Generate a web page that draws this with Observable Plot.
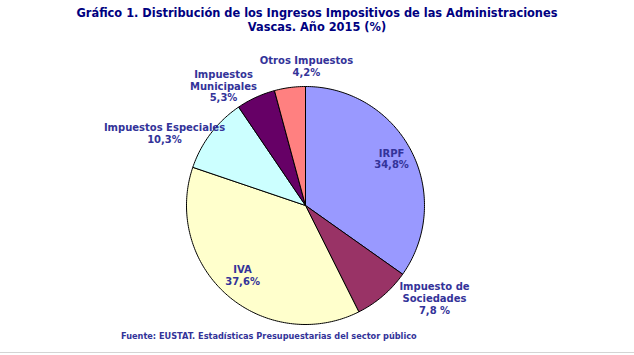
<!DOCTYPE html>
<html><head><meta charset="utf-8">
<script src="https://cdn.jsdelivr.net/npm/d3@7"></script>
<script src="https://cdn.jsdelivr.net/npm/@observablehq/plot@0.6"></script>
<style>
body{margin:0;background:#fff;}
#wrap{width:634px;height:352px;border-bottom:1px solid #d4d4d4;position:relative;font-family:"DejaVu Sans",Verdana,sans-serif;}
#title{height:34px;padding-top:6px;text-align:center;color:#000080;font-weight:bold;font-size:11.4px;line-height:14px;}
#caption{padding-left:121px;color:#333399;font-weight:bold;font-size:8.2px;line-height:12px;margin-top:2px;}
svg{display:block;}
</style></head>
<body><div id="wrap">
<div id="title">Gráfico 1. Distribución de los Ingresos Impositivos de las Administraciones<br>Vascas. Año 2015 (%)</div>
<div id="chart"></div>
<div id="caption">Fuente: EUSTAT. Estadísticas Presupuestarias del sector público</div>
</div>
<script>
// Data
const categories = ["IRPF", "Impuesto de Sociedades", "IVA", "Impuestos Especiales", "Impuestos Municipales", "Otros Impuestos"];
const labelNames = ["IRPF", "Impuesto de\nSociedades", "IVA", "Impuestos Especiales", "Impuestos\nMunicipales", "Otros Impuestos"];
const shares = [34.8, 7.8, 37.6, 10.3, 5.3, 4.2];
const sliceColors = ["#9999FF", "#993366", "#FFFFCC", "#CCFFFF", "#660066", "#FF8080"];

// Layout (label anchors in pie-radius units, relative to the pie centre)
const labelX = [0.723, 1.084, -0.529, -1.185, -0.689, 0.008];
const labelY = [0.392, -0.779, -0.584, 0.610, 1.005, 1.172];

const W = 634, H = 288, R = 119, cx = 305, cy = 165;

const total = d3.sum(shares);
const slices = [];
let acc = 0;
categories.forEach((c, i) => {
  const a0 = acc / total * 2 * Math.PI;
  acc += shares[i];
  const a1 = acc / total * 2 * Math.PI;
  const n = Math.max(2, Math.ceil((a1 - a0) / (Math.PI / 180)));
  slices.push({cat: c, x: 0, y: 0});
  for (let k = 0; k <= n; k++) {
    const a = a0 + (a1 - a0) * k / n;
    slices.push({cat: c, x: Math.sin(a), y: Math.cos(a)});
  }
  slices.push({cat: c, x: 0, y: 0});
});

const fmt = v => String(v).replace(".", ",");
const labels = categories.map((c, i) => ({
  x: labelX[i], y: labelY[i],
  text: labelNames[i] + "\n" + fmt(shares[i]) + (i === 1 ? " %" : "%")
}));

const chart = Plot.plot({
  width: W, height: H,
  margin: 0,
  x: {domain: [-cx / R, (W - cx) / R], axis: null},
  y: {domain: [-(H - cy) / R, cy / R], axis: null},
  color: {domain: categories, range: sliceColors},
  style: {background: "transparent", overflow: "visible"},
  marks: [
    Plot.line(slices, {x: "x", y: "y", z: "cat", fill: "cat", stroke: "#000", strokeWidth: 1, curve: "linear", strokeLinejoin: "round"}),
    Plot.text(labels, {x: "x", y: "y", text: "text", fill: "#333399", fontWeight: "bold", fontSize: 10, lineHeight: 1.17, fontFamily: "DejaVu Sans, Verdana, sans-serif"})
  ]
});
document.getElementById("chart").appendChild(chart);
</script>
</body></html>
